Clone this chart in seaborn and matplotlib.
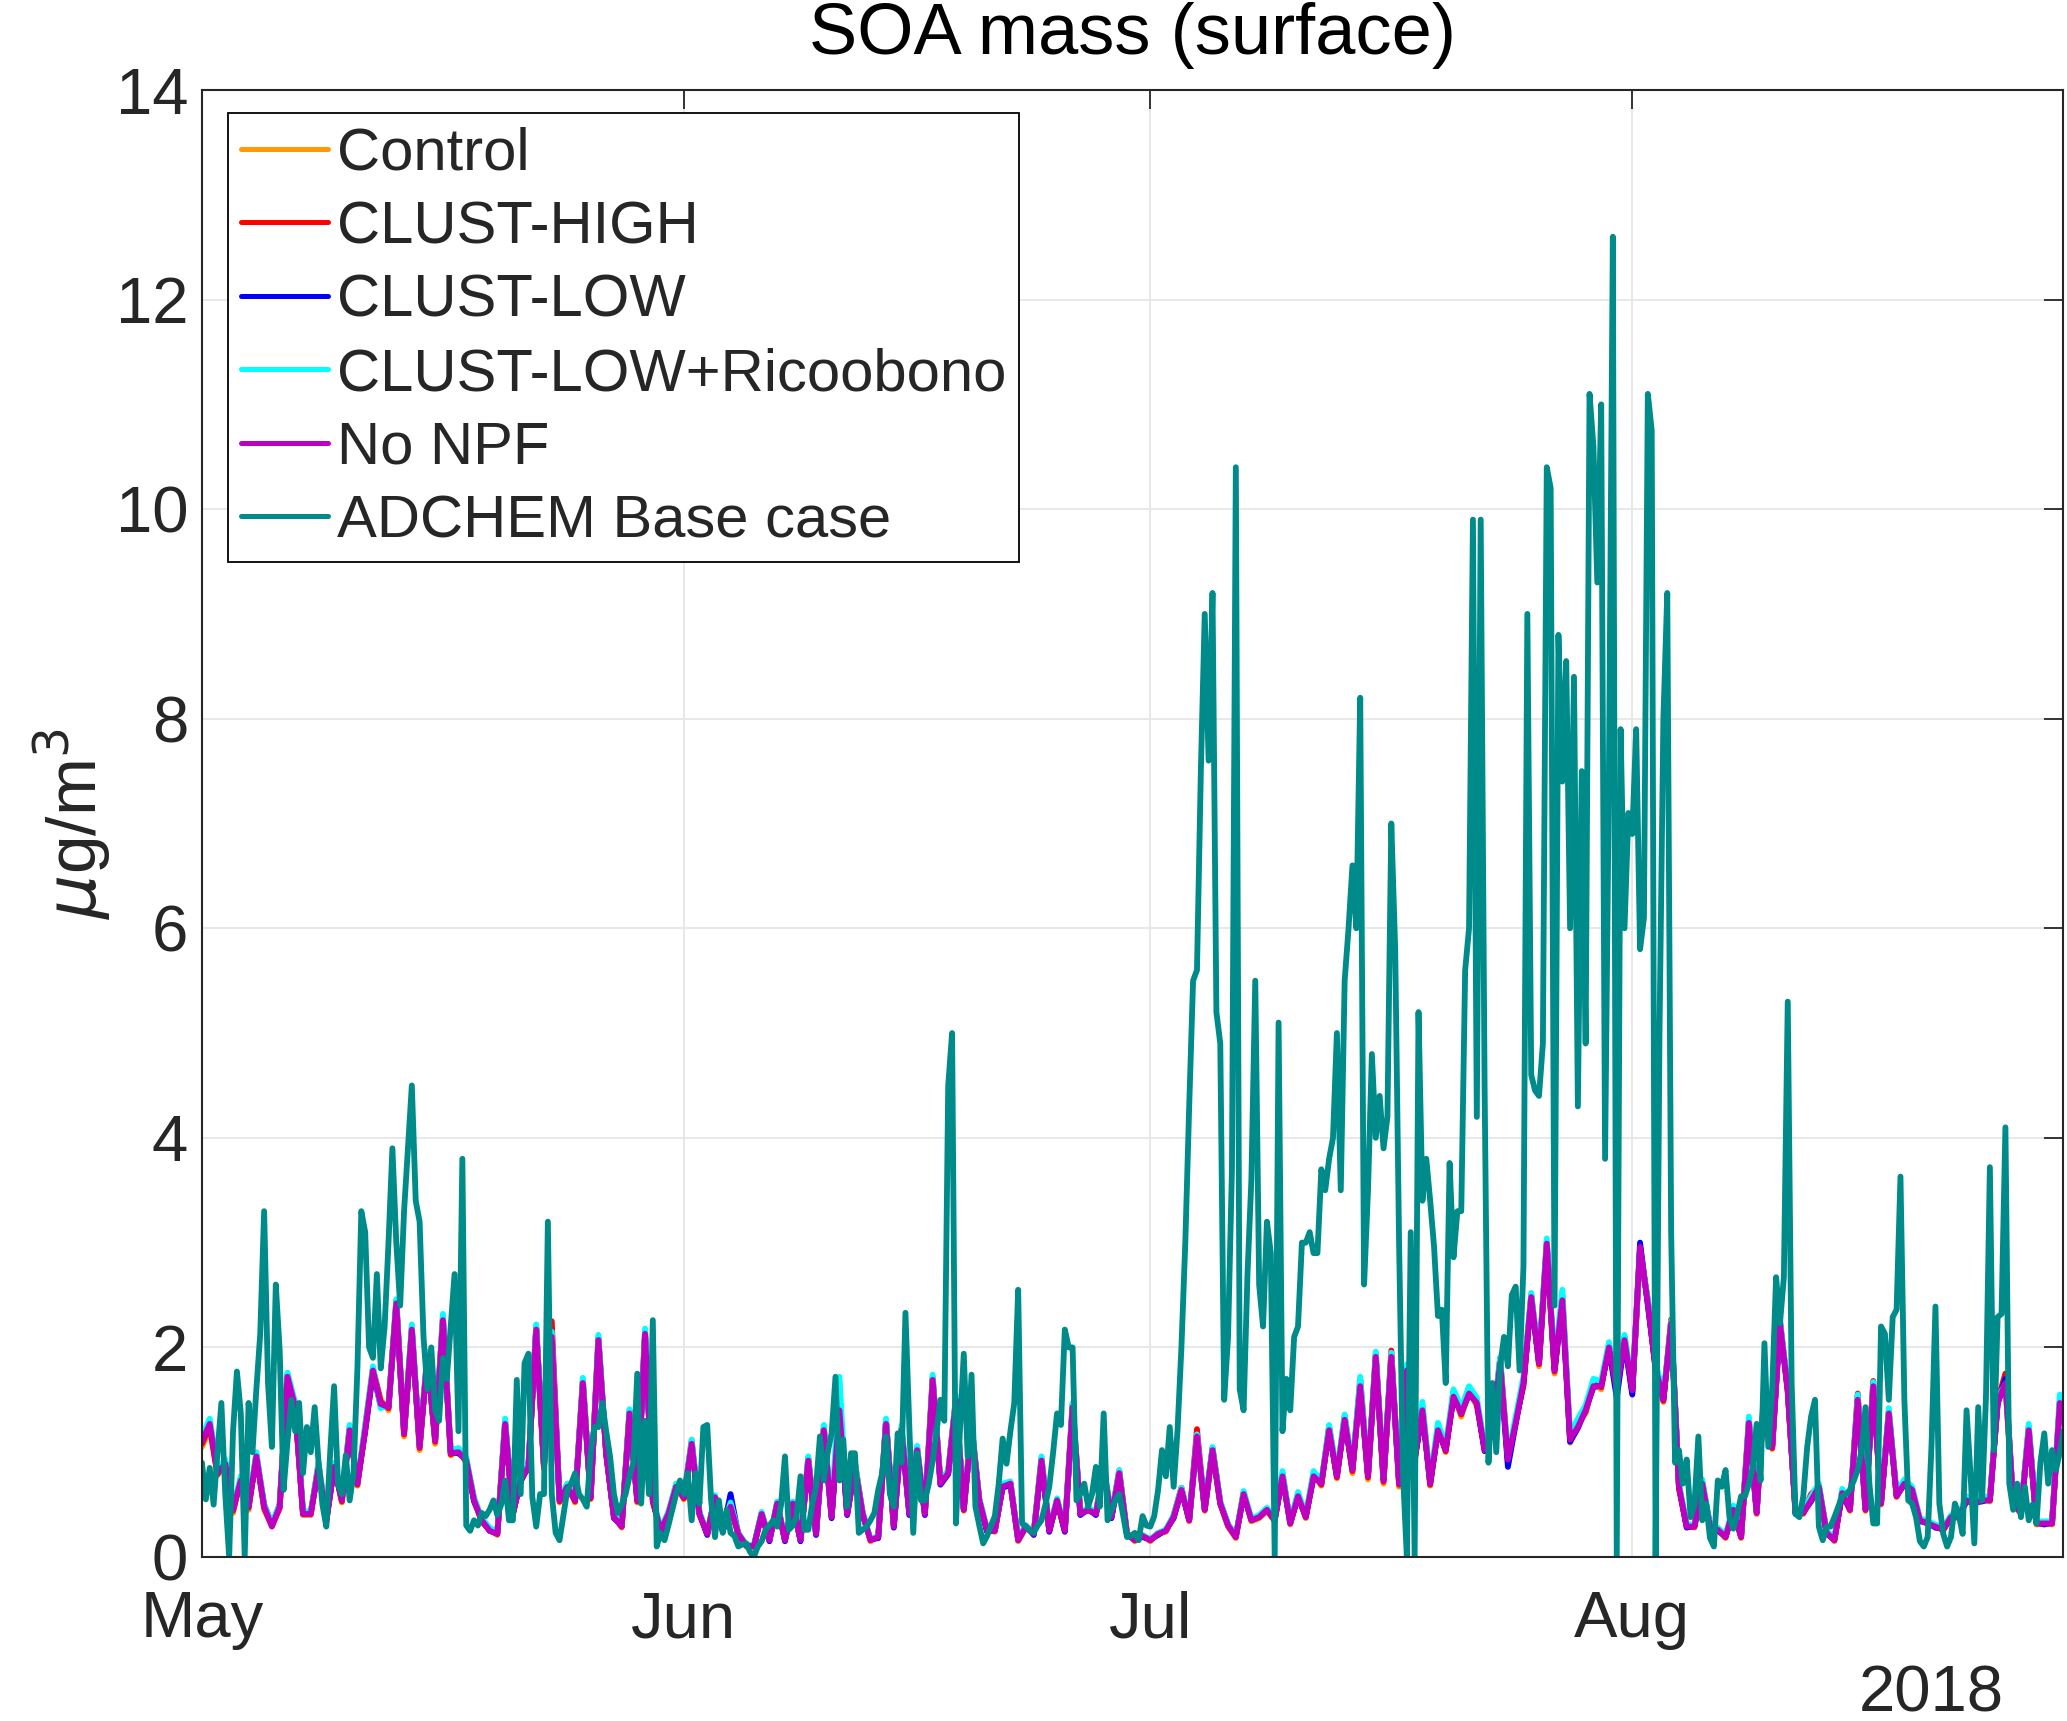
import numpy as np
import pandas as pd
import matplotlib
matplotlib.use("Agg")
import matplotlib.pyplot as plt
import matplotlib.dates as mdates
import seaborn as sns

# series, in legend / drawing order
series_names = ["Control", "CLUST-HIGH", "CLUST-LOW", "CLUST-LOW+Ricoobono",
                "No NPF", "ADCHEM Base case"]
series_colors = ["#ff9900", "#ff0000", "#0000ff", "#00ffff", "#bf00bf", "#008b8b"]

# model runs, 12-hourly values from 2018-05-01 00:00 (ug/m3)
control = [
    1.05, 1.22, 0.78, 0.92, 0.42, 0.76, 0.45, 0.99, 0.45, 0.30,
    0.46, 1.75, 1.40, 0.40, 0.40, 0.90, 0.33, 0.88, 0.52, 1.25,
    0.68, 1.25, 1.80, 1.50, 1.40, 2.45, 1.15, 2.20, 1.02, 1.95,
    1.08, 2.30, 0.97, 1.03, 0.90, 0.56, 0.33, 0.26, 0.21, 1.30,
    0.40, 0.76, 0.84, 2.20, 0.84, 2.15, 0.52, 0.70, 0.52, 1.70,
    0.55, 2.10, 0.97, 0.40, 0.28, 1.40, 0.52, 2.16, 0.52, 0.26,
    0.40, 0.70, 0.55, 1.12, 0.40, 0.23, 0.55, 0.27, 0.46, 0.23,
    0.10, 0.11, 0.40, 0.17, 0.49, 0.17, 0.49, 0.17, 0.95, 0.23,
    1.25, 0.39, 1.45, 0.42, 0.88, 0.42, 0.15, 0.20, 1.30, 0.30,
    1.24, 0.42, 1.05, 0.42, 1.72, 0.72, 0.82, 1.52, 0.44, 1.27,
    0.52, 0.26, 0.24, 0.69, 0.72, 0.15, 0.28, 0.23, 0.95, 0.26,
    0.52, 0.26, 1.46, 0.42, 0.44, 0.42, 0.86, 0.39, 0.83, 0.23,
    0.15, 0.21, 0.15, 0.23, 0.24, 0.40, 0.66, 0.34, 1.12, 0.44,
    1.00, 0.50, 0.29, 0.18, 0.62, 0.34, 0.37, 0.44, 0.34, 0.80,
    0.31, 0.60, 0.37, 0.80, 0.68, 1.25, 0.75, 1.35, 0.80, 1.66,
    0.74, 1.95, 0.70, 1.94, 0.67, 1.80, 0.90, 1.44, 0.68, 1.24,
    1.00, 1.56, 1.34, 1.58, 1.44, 1.04, 1.17, 1.88, 0.90, 1.30,
    1.63, 2.50, 1.82, 2.95, 1.75, 2.48, 1.09, 1.27, 1.37, 1.66,
    1.60, 2.03, 1.56, 2.10, 1.56, 2.90, 2.45, 1.78, 1.48, 2.27,
    0.65, 0.30, 0.28, 0.72, 0.28, 0.27, 0.18, 0.47, 0.18, 1.31,
    0.41, 1.62, 1.03, 2.26, 1.56, 0.43, 0.41, 0.56, 0.66, 0.24,
    0.15, 0.63, 0.44, 1.53, 0.44, 1.66, 0.50, 1.40, 0.57, 0.72,
    0.62, 0.36, 0.31, 0.30, 0.25, 0.39, 0.37, 0.56, 0.50, 0.56,
    0.53, 1.50, 1.62, 0.52, 0.41, 1.24, 0.31, 0.33, 0.31, 1.50,
]
clust_high = [
    1.08, 1.25, 0.79, 0.90, 0.44, 0.74, 0.47, 0.97, 0.47, 0.30,
    0.47, 1.74, 1.42, 0.41, 0.41, 0.88, 0.34, 0.87, 0.53, 1.23,
    0.69, 1.23, 1.79, 1.48, 1.42, 2.44, 1.17, 2.18, 1.04, 1.93,
    1.10, 2.28, 0.98, 1.02, 0.91, 0.55, 0.34, 0.26, 0.22, 1.29,
    0.41, 0.75, 0.85, 2.19, 0.85, 2.25, 0.53, 0.68, 0.53, 1.68,
    0.56, 2.09, 0.98, 0.39, 0.29, 1.39, 0.53, 2.15, 0.53, 0.26,
    0.41, 0.68, 0.56, 1.10, 0.41, 0.22, 0.56, 0.26, 0.47, 0.22,
    0.11, 0.10, 0.41, 0.16, 0.50, 0.16, 0.50, 0.16, 0.94, 0.22,
    1.23, 0.38, 1.45, 0.41, 0.90, 0.41, 0.16, 0.19, 1.29, 0.29,
    1.23, 0.41, 1.04, 0.41, 1.71, 0.71, 0.81, 1.51, 0.45, 1.26,
    0.53, 0.25, 0.25, 0.68, 0.71, 0.16, 0.29, 0.22, 0.94, 0.25,
    0.53, 0.25, 1.45, 0.41, 0.45, 0.41, 0.85, 0.38, 0.82, 0.22,
    0.16, 0.20, 0.16, 0.22, 0.25, 0.39, 0.66, 0.35, 1.22, 0.45,
    1.04, 0.51, 0.30, 0.19, 0.61, 0.35, 0.38, 0.45, 0.35, 0.79,
    0.32, 0.59, 0.38, 0.79, 0.69, 1.24, 0.76, 1.34, 0.82, 1.70,
    0.76, 1.93, 0.72, 1.97, 0.69, 1.81, 0.92, 1.43, 0.69, 1.24,
    1.01, 1.58, 1.36, 1.62, 1.46, 1.03, 1.19, 1.90, 0.92, 1.30,
    1.64, 2.50, 1.84, 2.97, 1.77, 2.50, 1.11, 1.30, 1.39, 1.68,
    1.62, 2.02, 1.58, 2.10, 1.58, 2.94, 2.44, 1.79, 1.49, 2.26,
    0.66, 0.29, 0.29, 0.71, 0.29, 0.26, 0.19, 0.46, 0.19, 1.30,
    0.42, 1.61, 1.04, 2.25, 1.58, 0.42, 0.42, 0.60, 0.67, 0.23,
    0.16, 0.62, 0.45, 1.56, 0.45, 1.68, 0.51, 1.39, 0.58, 0.71,
    0.63, 0.35, 0.32, 0.29, 0.26, 0.38, 0.38, 0.55, 0.51, 0.55,
    0.54, 1.49, 1.75, 0.51, 0.42, 1.24, 0.32, 0.32, 0.32, 1.48,
]
clust_low = [
    1.12, 1.28, 0.82, 0.88, 0.50, 0.72, 0.50, 0.95, 0.50, 0.31,
    0.50, 1.70, 1.44, 0.42, 0.43, 0.85, 0.36, 0.85, 0.56, 1.20,
    0.72, 1.20, 1.76, 1.44, 1.44, 2.40, 1.20, 2.15, 1.07, 1.89,
    1.13, 2.24, 1.00, 0.99, 0.93, 0.53, 0.36, 0.25, 0.23, 1.26,
    0.42, 0.72, 0.87, 2.18, 0.87, 2.08, 0.55, 0.66, 0.55, 1.65,
    0.58, 2.05, 1.00, 0.37, 0.30, 1.36, 0.55, 2.12, 0.55, 0.24,
    0.42, 0.66, 0.58, 1.07, 0.42, 0.21, 0.58, 0.24, 0.60, 0.21,
    0.12, 0.10, 0.42, 0.15, 0.52, 0.15, 0.52, 0.15, 0.91, 0.21,
    1.20, 0.37, 1.40, 0.40, 0.85, 0.40, 0.17, 0.18, 1.30, 0.28,
    1.20, 0.40, 1.01, 0.40, 1.68, 0.69, 0.79, 1.49, 0.46, 1.23,
    0.55, 0.24, 0.26, 0.66, 0.69, 0.17, 0.30, 0.21, 0.91, 0.24,
    0.55, 0.24, 1.42, 0.40, 0.46, 0.40, 0.82, 0.37, 0.79, 0.21,
    0.17, 0.19, 0.17, 0.21, 0.26, 0.37, 0.63, 0.36, 1.13, 0.46,
    1.03, 0.52, 0.31, 0.20, 0.59, 0.36, 0.39, 0.46, 0.36, 0.76,
    0.33, 0.57, 0.39, 0.76, 0.71, 1.20, 0.78, 1.30, 0.84, 1.65,
    0.78, 1.90, 0.74, 1.90, 0.71, 1.77, 0.94, 1.38, 0.71, 1.20,
    1.03, 1.52, 1.38, 1.55, 1.48, 1.01, 1.21, 1.84, 0.86, 1.27,
    1.67, 2.46, 1.86, 3.00, 1.79, 2.43, 1.10, 1.23, 1.41, 1.62,
    1.64, 1.99, 1.52, 2.06, 1.55, 3.00, 2.40, 1.81, 1.51, 2.21,
    0.68, 0.28, 0.30, 0.69, 0.30, 0.25, 0.20, 0.44, 0.20, 1.27,
    0.43, 1.58, 1.06, 2.22, 1.60, 0.41, 0.43, 0.53, 0.68, 0.22,
    0.17, 0.60, 0.46, 1.49, 0.46, 1.62, 0.52, 1.36, 0.59, 0.69,
    0.65, 0.34, 0.33, 0.28, 0.27, 0.37, 0.39, 0.53, 0.52, 0.53,
    0.55, 1.46, 1.70, 0.50, 0.43, 1.20, 0.33, 0.31, 0.33, 1.46,
]
ricoobono = [
    1.15, 1.32, 0.84, 0.93, 0.47, 0.77, 0.50, 1.00, 0.50, 0.32,
    0.50, 1.76, 1.47, 0.44, 0.43, 0.90, 0.37, 0.90, 0.56, 1.26,
    0.72, 1.26, 1.82, 1.42, 1.45, 2.46, 1.20, 2.22, 1.07, 1.96,
    1.13, 2.32, 1.02, 1.04, 0.95, 0.57, 0.37, 0.28, 0.24, 1.32,
    0.43, 0.76, 0.88, 2.22, 0.88, 2.15, 0.56, 0.70, 0.56, 1.71,
    0.59, 2.12, 1.02, 0.40, 0.31, 1.41, 0.56, 2.18, 0.56, 0.27,
    0.43, 0.70, 0.59, 1.12, 0.43, 0.23, 0.59, 0.27, 0.52, 0.23,
    0.12, 0.11, 0.43, 0.17, 0.53, 0.17, 0.53, 0.17, 0.96, 0.23,
    1.26, 0.40, 1.72, 0.43, 0.90, 0.43, 0.17, 0.20, 1.32, 0.31,
    1.26, 0.43, 1.06, 0.43, 1.74, 0.72, 0.83, 1.54, 0.47, 1.28,
    0.56, 0.27, 0.26, 0.70, 0.72, 0.17, 0.30, 0.23, 0.96, 0.27,
    0.56, 0.27, 1.47, 0.43, 0.47, 0.43, 0.86, 0.40, 0.83, 0.23,
    0.17, 0.21, 0.17, 0.23, 0.26, 0.40, 0.66, 0.37, 1.17, 0.47,
    1.05, 0.53, 0.31, 0.20, 0.63, 0.37, 0.40, 0.47, 0.37, 0.82,
    0.33, 0.62, 0.40, 0.82, 0.72, 1.26, 0.80, 1.36, 0.86, 1.72,
    0.80, 1.96, 0.76, 1.95, 0.73, 1.84, 0.96, 1.48, 0.73, 1.28,
    1.06, 1.60, 1.42, 1.63, 1.52, 1.06, 1.24, 1.90, 0.96, 1.34,
    1.72, 2.52, 1.90, 3.04, 1.83, 2.55, 1.18, 1.32, 1.45, 1.70,
    1.68, 2.05, 1.64, 2.12, 1.64, 2.92, 2.46, 1.86, 1.54, 2.25,
    0.70, 0.31, 0.31, 0.74, 0.31, 0.28, 0.21, 0.49, 0.21, 1.34,
    0.44, 1.65, 1.09, 2.27, 1.63, 0.44, 0.44, 0.58, 0.70, 0.25,
    0.18, 0.65, 0.47, 1.55, 0.47, 1.67, 0.54, 1.42, 0.61, 0.74,
    0.67, 0.37, 0.34, 0.31, 0.28, 0.40, 0.40, 0.58, 0.54, 0.58,
    0.57, 1.52, 1.65, 0.54, 0.44, 1.27, 0.34, 0.34, 0.34, 1.55,
]
no_npf = [
    1.10, 1.27, 0.80, 0.89, 0.45, 0.73, 0.48, 0.96, 0.48, 0.29,
    0.48, 1.72, 1.43, 0.41, 0.41, 0.86, 0.35, 0.86, 0.54, 1.21,
    0.70, 1.21, 1.78, 1.46, 1.43, 2.42, 1.18, 2.17, 1.05, 1.91,
    1.11, 2.26, 0.99, 1.00, 0.92, 0.54, 0.35, 0.25, 0.22, 1.27,
    0.41, 0.73, 0.86, 2.17, 0.86, 2.10, 0.54, 0.67, 0.54, 1.66,
    0.57, 2.07, 0.99, 0.38, 0.29, 1.37, 0.54, 2.13, 0.54, 0.25,
    0.41, 0.67, 0.57, 1.08, 0.41, 0.22, 0.57, 0.25, 0.48, 0.22,
    0.11, 0.10, 0.41, 0.16, 0.51, 0.16, 0.51, 0.16, 0.92, 0.22,
    1.21, 0.38, 1.40, 0.41, 0.86, 0.41, 0.16, 0.19, 1.27, 0.29,
    1.21, 0.41, 1.02, 0.41, 1.69, 0.70, 0.80, 1.50, 0.45, 1.24,
    0.54, 0.25, 0.25, 0.67, 0.70, 0.16, 0.29, 0.22, 0.92, 0.25,
    0.54, 0.25, 1.43, 0.41, 0.45, 0.41, 0.83, 0.38, 0.80, 0.22,
    0.16, 0.20, 0.16, 0.22, 0.25, 0.38, 0.64, 0.35, 1.15, 0.45,
    1.02, 0.51, 0.30, 0.19, 0.60, 0.35, 0.38, 0.45, 0.35, 0.77,
    0.32, 0.58, 0.38, 0.77, 0.70, 1.21, 0.77, 1.31, 0.83, 1.63,
    0.77, 1.91, 0.73, 1.91, 0.70, 1.78, 0.93, 1.40, 0.70, 1.21,
    1.02, 1.53, 1.37, 1.56, 1.47, 1.02, 1.20, 1.85, 0.93, 1.28,
    1.66, 2.48, 1.85, 2.99, 1.78, 2.45, 1.12, 1.24, 1.40, 1.63,
    1.63, 2.00, 1.59, 2.07, 1.59, 2.96, 2.42, 1.80, 1.50, 2.23,
    0.67, 0.29, 0.29, 0.70, 0.29, 0.26, 0.19, 0.45, 0.19, 1.28,
    0.42, 1.59, 1.05, 2.23, 1.59, 0.42, 0.42, 0.54, 0.67, 0.23,
    0.16, 0.61, 0.45, 1.50, 0.45, 1.63, 0.51, 1.37, 0.58, 0.70,
    0.64, 0.35, 0.32, 0.29, 0.26, 0.38, 0.38, 0.54, 0.51, 0.54,
    0.54, 1.47, 1.66, 0.51, 0.42, 1.21, 0.32, 0.32, 0.32, 1.47,
]

# ADCHEM base case, 6-hourly values from 2018-05-01 00:00, one row = 5 days
adchem = [
    0.90, 0.55, 0.85, 0.50, 1.00, 1.47, 0.60, 0.00, 1.20, 1.77, 1.37, 0.00, 1.47, 1.00, 1.60, 2.13, 3.30, 1.66, 1.05, 2.60,
    1.97, 0.64, 1.10, 1.50, 1.20, 1.47, 0.80, 1.24, 1.00, 1.43, 0.90, 0.50, 0.29, 1.00, 1.63, 0.70, 0.60, 0.97, 0.54, 0.80,
    1.80, 3.30, 3.10, 2.00, 1.90, 2.70, 1.80, 2.20, 3.00, 3.90, 3.00, 2.40, 3.30, 3.90, 4.50, 3.40, 3.20, 2.10, 1.60, 2.00,
    1.40, 1.30, 1.90, 1.70, 2.20, 2.70, 1.20, 3.80, 0.30, 0.25, 0.35, 0.30, 0.42, 0.39, 0.45, 0.54, 0.40, 0.50, 0.73, 0.35,
    0.35, 1.69, 0.60, 1.85, 1.94, 0.57, 0.29, 0.60, 0.60, 3.20, 0.60, 0.23, 0.16, 0.40, 0.64, 0.70, 0.80, 0.60, 0.55, 0.48,
    0.99, 1.24, 1.24, 1.47, 1.20, 0.96, 0.60, 0.42, 0.50, 0.60, 0.77, 0.90, 1.75, 0.51, 1.30, 0.60, 2.26, 0.10, 0.23, 0.16,
    0.30, 0.45, 0.60, 0.73, 0.60, 0.80, 0.35, 0.80, 0.51, 1.24, 1.26, 0.54, 0.19, 0.54, 0.23, 0.45, 0.23, 0.20, 0.10, 0.12,
    0.13, 0.05, 0.00, 0.10, 0.15, 0.26, 0.30, 0.35, 0.29, 0.50, 0.96, 0.26, 0.30, 0.39, 0.77, 0.26, 0.26, 0.50, 0.67, 1.15,
    0.73, 1.00, 1.18, 1.72, 0.73, 1.12, 0.48, 0.99, 0.99, 0.23, 0.26, 0.29, 0.35, 0.42, 0.64, 0.80, 1.15, 0.60, 0.48, 1.18,
    0.90, 2.33, 1.24, 0.23, 0.99, 0.54, 0.54, 0.70, 0.92, 1.20, 1.50, 1.30, 4.50, 5.00, 0.32, 1.20, 1.94, 0.96, 1.74, 0.48,
    0.30, 0.13, 0.20, 0.30, 0.39, 0.70, 1.13, 0.89, 1.20, 1.47, 2.55, 0.32, 0.29, 0.25, 0.23, 0.30, 0.35, 0.50, 0.67, 1.00,
    1.37, 1.26, 2.17, 2.00, 2.00, 0.54, 0.60, 0.70, 0.48, 0.60, 0.86, 0.48, 1.37, 0.35, 0.45, 0.54, 0.60, 0.40, 0.19, 0.20,
    0.23, 0.16, 0.39, 0.30, 0.29, 0.39, 0.64, 1.02, 0.77, 1.24, 0.67, 1.21, 2.00, 3.00, 4.30, 5.50, 5.60, 7.50, 9.00, 7.60,
    9.20, 5.20, 4.90, 1.50, 2.10, 3.70, 10.4, 1.60, 1.40, 2.70, 3.60, 5.50, 2.60, 2.20, 3.20, 2.90, 0.00, 5.10, 1.20, 1.70,
    1.40, 2.10, 2.20, 3.00, 3.00, 3.10, 2.90, 2.90, 3.70, 3.50, 3.80, 4.00, 5.00, 3.50, 5.50, 6.00, 6.60, 6.00, 8.20, 2.60,
    3.50, 4.80, 4.00, 4.40, 3.90, 4.20, 7.00, 5.80, 3.00, 0.80, 0.00, 3.10, 0.00, 5.20, 3.40, 3.80, 3.40, 2.96, 2.30, 2.36,
    1.66, 3.76, 2.86, 3.30, 3.30, 5.60, 6.00, 9.90, 4.20, 9.90, 4.50, 0.90, 1.66, 1.00, 1.82, 2.10, 1.82, 2.50, 2.58, 1.78,
    2.77, 9.00, 4.60, 4.45, 4.40, 4.90, 10.4, 10.2, 2.40, 8.80, 7.40, 8.55, 6.00, 8.40, 4.30, 7.50, 4.90, 11.1, 10.6, 9.30,
    11.0, 3.80, 7.50, 12.6, 0.00, 7.90, 6.00, 7.10, 6.90, 7.90, 5.80, 6.10, 11.1, 10.75, 0.00, 5.00, 8.00, 9.20, 3.10, 0.90,
    1.02, 0.70, 0.93, 0.38, 0.50, 1.15, 0.35, 0.51, 0.18, 0.10, 0.73, 0.67, 0.83, 0.38, 0.27, 0.41, 0.58, 0.58, 0.70, 0.86,
    1.27, 0.73, 2.04, 1.05, 1.60, 2.67, 2.23, 2.67, 5.30, 1.66, 0.41, 0.38, 0.58, 1.05, 1.34, 1.50, 0.29, 0.16, 0.29, 0.29,
    0.38, 0.48, 0.58, 0.60, 0.64, 0.73, 0.83, 1.02, 1.43, 0.70, 0.32, 0.32, 2.20, 2.13, 1.50, 2.29, 2.36, 3.63, 1.50, 0.54,
    0.51, 0.38, 0.15, 0.10, 0.19, 1.08, 2.39, 0.51, 0.22, 0.10, 0.19, 0.51, 0.40, 0.22, 1.40, 0.80, 0.13, 1.43, 0.54, 1.53,
    3.72, 1.02, 2.29, 2.32, 4.10, 0.70, 0.45, 0.70, 0.38, 0.67, 0.35, 0.50, 0.32, 0.90, 1.18, 0.70, 1.02, 0.83, 1.00, 1.21,
]

start = pd.Timestamp("2018-05-01")
end = pd.Timestamp("2018-08-28 17:00")
t_model = pd.date_range(start, periods=len(no_npf), freq="12h")
t_adchem = pd.date_range(start, periods=len(adchem), freq="6h")

frames = []
for name, vals in zip(series_names[:5], [control, clust_high, clust_low, ricoobono, no_npf]):
    frames.append(pd.DataFrame({"time": t_model, "value": vals, "series": name}))
frames.append(pd.DataFrame({"time": t_adchem, "value": adchem, "series": series_names[5]}))
df = pd.concat(frames, ignore_index=True)

sns.set_style("white")
plt.rcParams["font.family"] = ["Liberation Sans", "DejaVu Sans"]
plt.rcParams["mathtext.fontset"] = "dejavusans"

dark = "#262626"
fig = plt.figure(figsize=(20.67, 17.21), dpi=100)
ax = fig.add_axes([0.0977, 0.0953, 0.9004, 0.8524])

sns.lineplot(data=df, x="time", y="value", hue="series", hue_order=series_names,
             palette=series_colors, estimator=None, sort=False, ax=ax)
for line in ax.get_lines():
    line.set_linewidth(4.2)
    line.set_solid_joinstyle("round")

ax.set_xlim(start, end)
ax.set_ylim(0, 14)
ax.set_yticks(range(0, 15, 2))
ax.xaxis.set_major_locator(mdates.MonthLocator())
ax.xaxis.set_major_formatter(mdates.DateFormatter("%b"))
ax.grid(True, color="#e6e6e6", linewidth=1.3)
ax.set_axisbelow(True)
for s in ax.spines.values():
    s.set_color(dark)
    s.set_linewidth(1.5)
ax.tick_params(direction="in", length=14, width=1.3, labelsize=47, colors=dark,
               top=True, right=True)
ax.tick_params(axis="x", pad=24)
ax.tick_params(axis="y", pad=10)

ax.set_xlabel("")
ax.set_ylabel(r"$\mu$g/m$^3$", fontsize=50, color=dark)
ax.yaxis.set_label_coords(-0.048, 0.5)
ax.set_title("SOA mass (surface)", fontsize=52, color="black", pad=26)
ax.text(0.968, -0.094, "2018", transform=ax.transAxes, ha="right", va="center",
        fontsize=47, color=dark)

handles, labels = ax.get_legend_handles_labels()
leg = ax.legend(handles, labels, loc="upper left", bbox_to_anchor=(0.014, 0.984),
                borderaxespad=0, fontsize=43, frameon=True, fancybox=False,
                edgecolor="black", framealpha=1, handlelength=1.45,
                handletextpad=0.15, labelspacing=0.31, borderpad=0.22)
leg.get_frame().set_linewidth(1.3)
for line in leg.get_lines():
    line.set_linewidth(3.6)

fig.savefig("out.png", dpi=100)
